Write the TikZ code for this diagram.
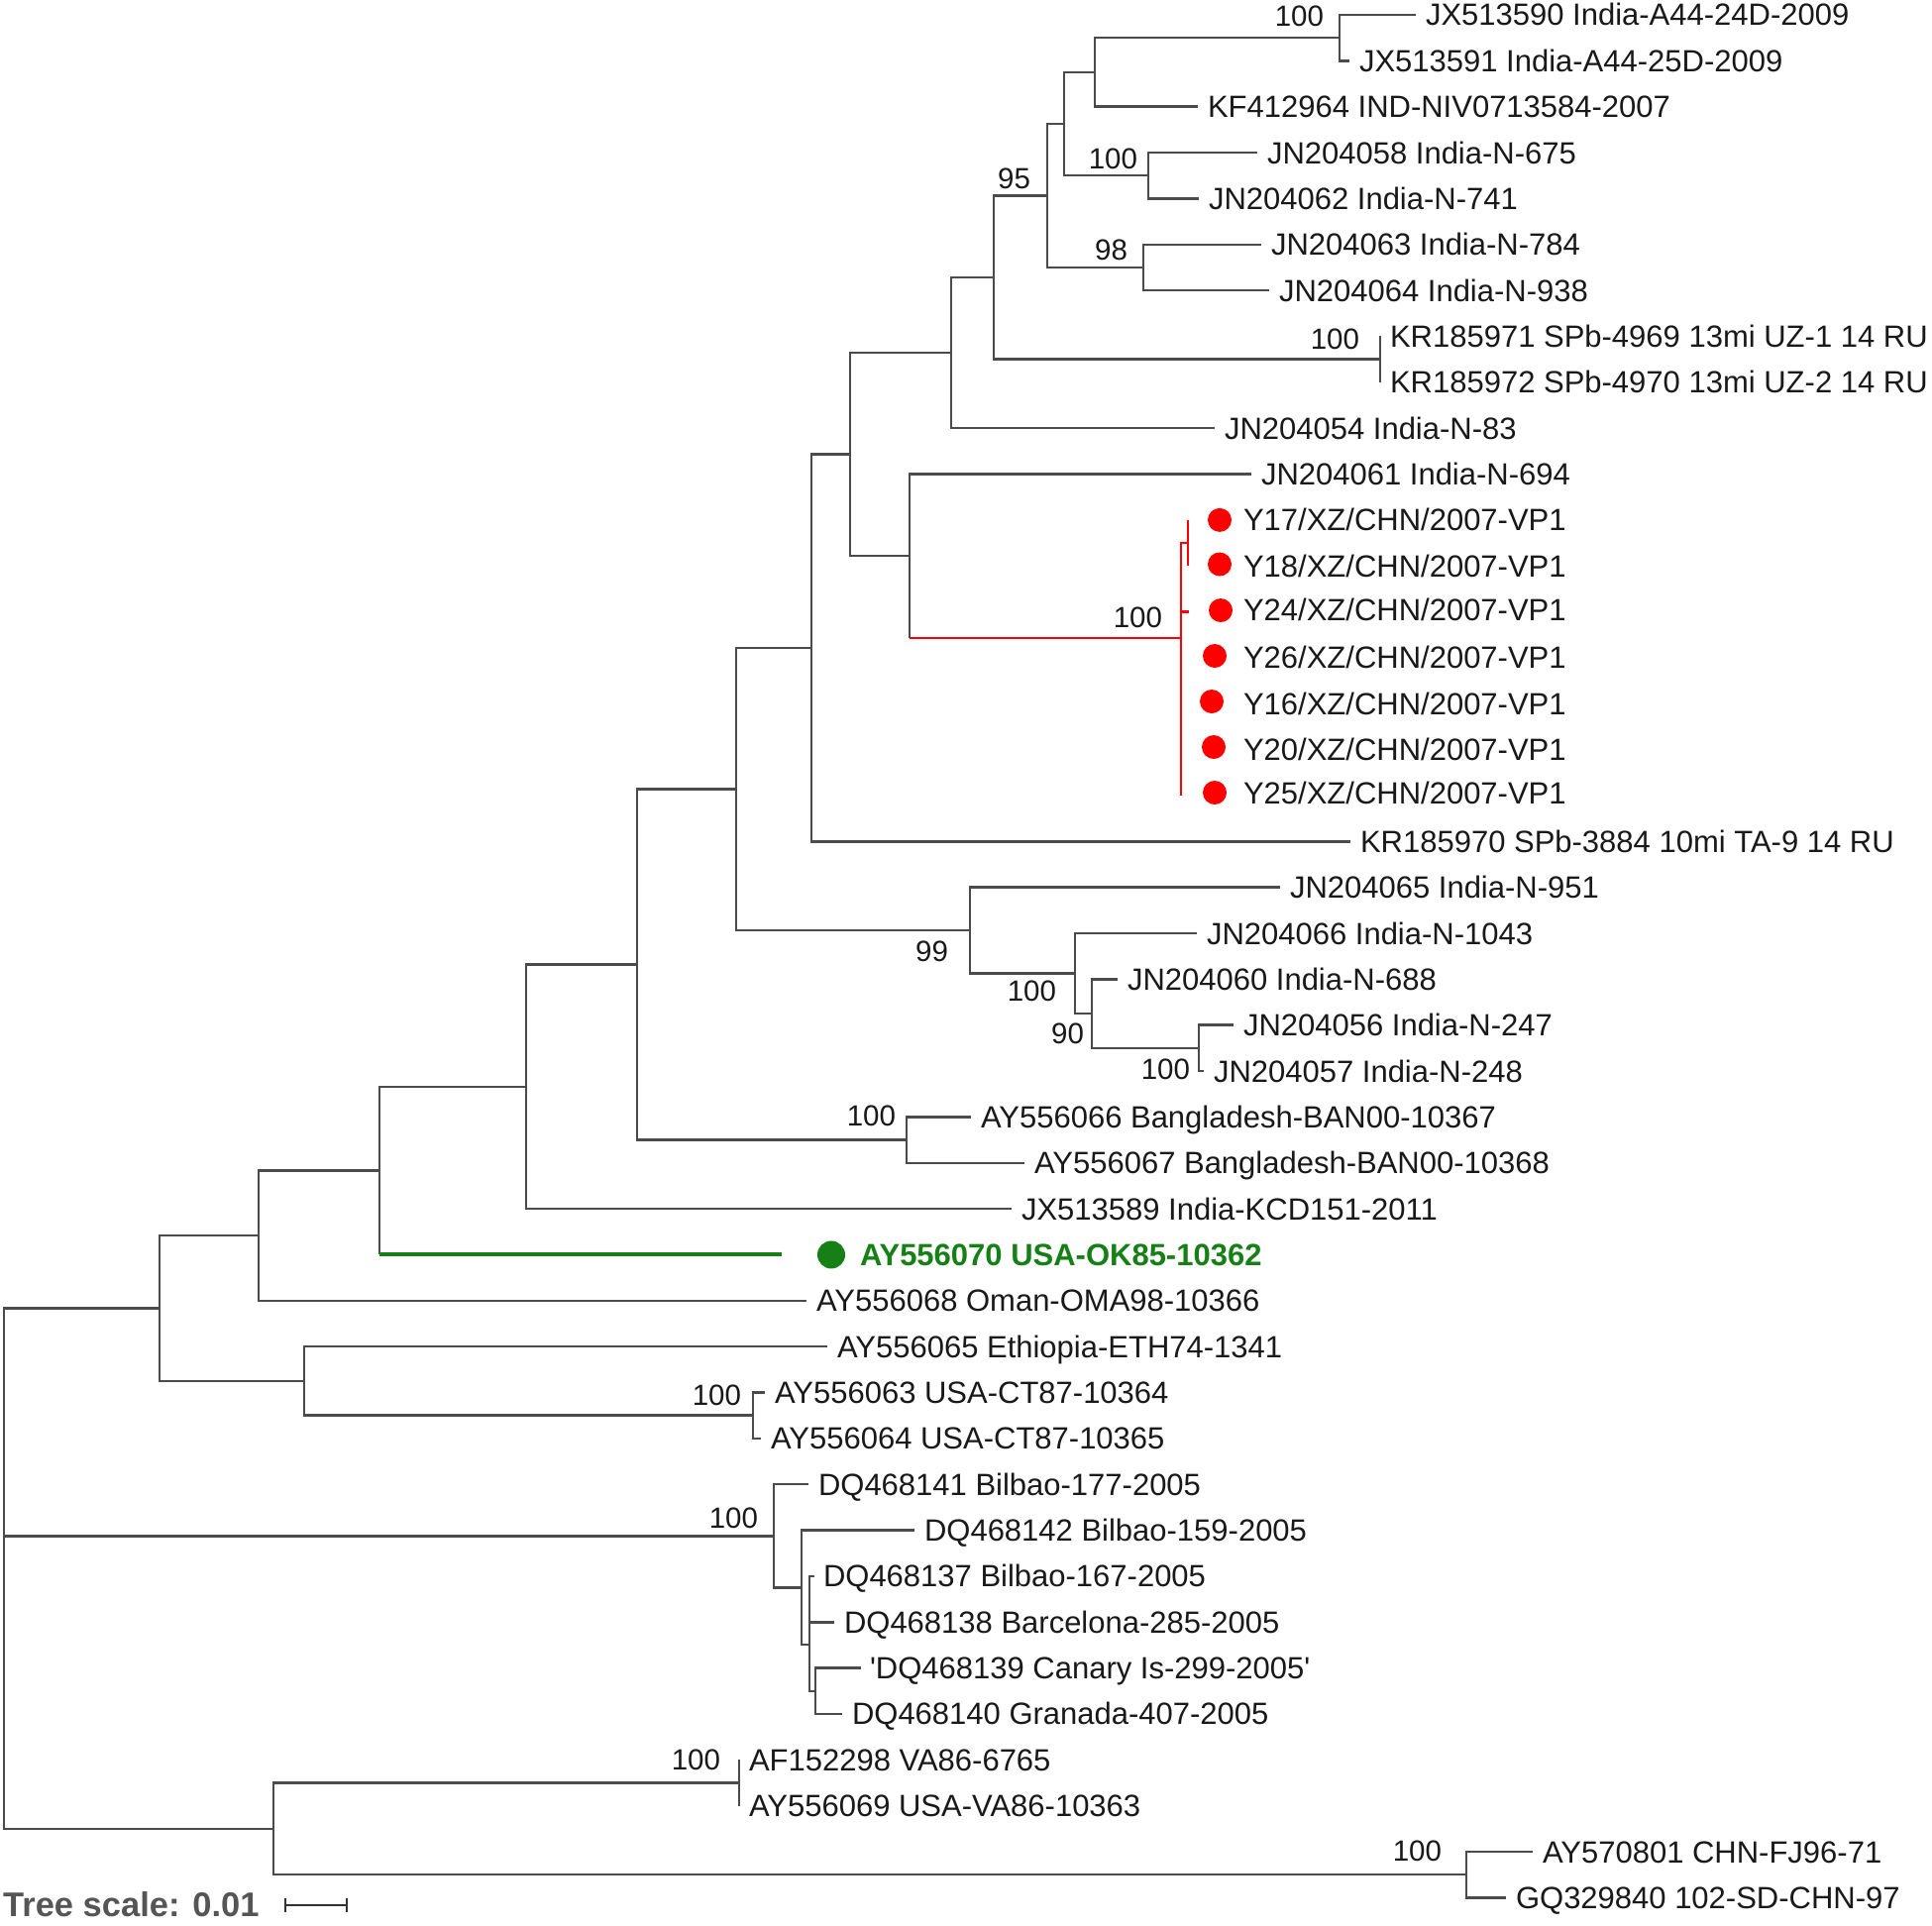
\documentclass[tikz,border=0pt]{standalone}
\usepackage{fontspec}
\setmainfont{Liberation Sans}
\definecolor{brc}{RGB}{75,75,75}
\definecolor{txc}{RGB}{25,25,25}
\definecolor{redc}{RGB}{255,0,0}
\definecolor{grnc}{RGB}{22,128,22}
\definecolor{tsc}{RGB}{85,85,85}
\newcommand\labfnt{\fontsize{31pt}{36pt}\selectfont}
\newcommand\supfnt{\fontsize{29.5pt}{34pt}\selectfont}
\newcommand\tsfnt{\fontsize{34.5pt}{40pt}\selectfont\bfseries}
\tikzset{
  br/.style={draw=brc, line width=2.5pt},
  redbr/.style={draw=redc, line width=2.2pt},
  grbr/.style={draw=grnc, line width=4pt},
  lab/.style={anchor=base west, inner sep=0pt, outer sep=0pt, font=\labfnt, text=txc, yshift=-11pt},
  glab/.style={lab, text=grnc, font=\labfnt\bfseries},
  sup/.style={anchor=east, inner sep=0pt, outer sep=0pt, font=\supfnt, text=txc},
  rdot/.style={circle, fill=redc, inner sep=0pt, minimum size=24pt},
  gdot/.style={circle, fill=grnc, inner sep=0pt, minimum size=28pt},
  sbar/.style={draw=black!80, line width=2.6pt},
}
\begin{document}
\begin{tikzpicture}[x=1pt,y=-1pt]
\useasboundingbox (0,0) rectangle (1950,1943);
% ---------- leaf tips ----------
\coordinate (t1) at (1429,15);
\coordinate (t2) at (1362,61.35);
\coordinate (t3) at (1209,107.7);
\coordinate (t4) at (1269,154.05);
\coordinate (t5) at (1210,200.4);
\coordinate (t6) at (1273,246.75);
\coordinate (t7) at (1281,293.1);
\coordinate (t8) at (1393,339.45);
\coordinate (t9) at (1393,385.8);
\coordinate (t10) at (1226,432.15);
\coordinate (t11) at (1263,478.5);
\coordinate (t12) at (1199,524.85);
\coordinate (t13) at (1199,571.2);
\coordinate (t14) at (1200,617.55);
\coordinate (t15) at (1192,663.9);
\coordinate (t16) at (1192,710.25);
\coordinate (t17) at (1192,756.6);
\coordinate (t18) at (1192,802.95);
\coordinate (t19) at (1363,849.3);
\coordinate (t20) at (1292,895.65);
\coordinate (t21) at (1208,942);
\coordinate (t22) at (1128,988.35);
\coordinate (t23) at (1245,1034.7);
\coordinate (t24) at (1215,1081.05);
\coordinate (t25) at (980,1127.4);
\coordinate (t26) at (1034,1173.75);
\coordinate (t27) at (1021,1220.1);
\coordinate (t28) at (789,1266.45);
\coordinate (t29) at (814,1312.8);
\coordinate (t30) at (835,1359.15);
\coordinate (t31) at (772,1405.5);
\coordinate (t32) at (768,1451.85);
\coordinate (t33) at (816,1498.2);
\coordinate (t34) at (923,1544.55);
\coordinate (t35) at (822,1590.9);
\coordinate (t36) at (842,1637.25);
\coordinate (t37) at (869,1683.6);
\coordinate (t38) at (850,1729.95);
\coordinate (t39) at (746,1776.3);
\coordinate (t40) at (746,1822.65);
\coordinate (t41) at (1547,1869);
\coordinate (t42) at (1520,1915.35);
% ---------- internal nodes ----------
\coordinate (n1) at (1352,38.2);
\coordinate (n2) at (1105,72.9);
\coordinate (n3) at (1159,177.2);
\coordinate (n4) at (1074,125.1);
\coordinate (n5) at (1154,269.9);
\coordinate (n6) at (1057,197.5);
\coordinate (n7) at (1393,362.6);
\coordinate (n8) at (1003,280.1);
\coordinate (n9) at (960,356.1);
\coordinate (r1) at (1199,548);
\coordinate (r0) at (1192,644);
\coordinate (n10) at (918,561.2);
\coordinate (n11) at (858,458.7);
\coordinate (n12) at (819,654);
\coordinate (na) at (1210,1057.9);
\coordinate (nb) at (1102,1023.1);
\coordinate (nc) at (1085,982.6);
\coordinate (nd) at (979,939.1);
\coordinate (n13) at (743,796.6);
\coordinate (bd) at (915,1150.6);
\coordinate (n14) at (643,973.6);
\coordinate (n15) at (531,1096.9);
\coordinate (n16) at (383,1181.7);
\coordinate (n17) at (261,1247.2);
\coordinate (ct) at (760,1428.7);
\coordinate (n18) at (307,1393.9);
\coordinate (n19) at (161,1320.6);
\coordinate (d3) at (823,1706.8);
\coordinate (d2) at (817,1660);
\coordinate (d1) at (809,1602.3);
\coordinate (d0) at (781,1550.3);
\coordinate (va) at (746,1799.5);
\coordinate (cn) at (1480,1892.2);
\coordinate (n20) at (276,1845.8);
\coordinate (root) at (4,1550);
% ---------- branches ----------
\draw[br] (n1) |- (t1) (n1) |- (t2);
\draw[br] (n2) |- (n1) (n2) |- (t3);
\draw[br] (n3) |- (t4) (n3) |- (t5);
\draw[br] (n4) |- (n2) (n4) |- (n3);
\draw[br] (n5) |- (t6) (n5) |- (t7);
\draw[br] (n6) |- (n4) (n6) |- (n5);
\draw[br] (n7) |- (t8) (n7) |- (t9);
\draw[br] (n8) |- (n6) (n8) |- (n7);
\draw[br] (n9) |- (n8) (n9) |- (t10);
\draw[br] (n10) |- (t11) (n10) -- (n10 |- r0);
\draw[redbr] (n10 |- r0) -- (r0);
\draw[redbr] (r0) |- (r1) (r0) |- (t14) (r0) |- (t15) (r0) |- (t16) (r0) |- (t17) (r0) |- (t18);
\draw[redbr] (r1) |- (t12) (r1) |- (t13);
\draw[br] (n11) |- (n9) (n11) |- (n10);
\draw[br] (n12) |- (n11) (n12) |- (t19);
\draw[br] (na) |- (t23) (na) |- (t24);
\draw[br] (nb) |- (t22) (nb) |- (na);
\draw[br] (nc) |- (t21) (nc) |- (nb);
\draw[br] (nd) |- (t20) (nd) |- (nc);
\draw[br] (n13) |- (n12) (n13) |- (nd);
\draw[br] (bd) |- (t25) (bd) |- (t26);
\draw[br] (n14) |- (n13) (n14) |- (bd);
\draw[br] (n15) |- (n14) (n15) |- (t27);
\draw[br] (n16) |- (n15) (n16) -- (n16 |- t28);
\draw[grbr] (n16 |- t28) -- (t28);
\draw[br] (n17) |- (n16) (n17) |- (t29);
\draw[br] (ct) |- (t31) (ct) |- (t32);
\draw[br] (n18) |- (t30) (n18) |- (ct);
\draw[br] (n19) |- (n17) (n19) |- (n18);
\draw[br] (d3) |- (t37) (d3) |- (t38);
\draw[br] (d2) |- (t35) (d2) |- (t36) (d2) |- (d3);
\draw[br] (d1) |- (t34) (d1) |- (d2);
\draw[br] (d0) |- (t33) (d0) |- (d1);
\draw[br] (va) |- (t39) (va) |- (t40);
\draw[br] (cn) |- (t41) (cn) |- (t42);
\draw[br] (n20) |- (va) (n20) |- (cn);
\draw[br] (root) |- (n19) (root) |- (d0) (root) |- (n20);
% ---------- leaf labels ----------
\node[lab] (l1) at (1439,15) {JX513590 India-A44-24D-2009};
\node[lab] (l2) at (1372,61.35) {JX513591 India-A44-25D-2009};
\node[lab] (l3) at (1219,107.7) {KF412964 IND-NIV0713584-2007};
\node[lab] (l4) at (1279,154.05) {JN204058 India-N-675};
\node[lab] (l5) at (1220,200.4) {JN204062 India-N-741};
\node[lab] (l6) at (1283,246.75) {JN204063 India-N-784};
\node[lab] (l7) at (1291,293.1) {JN204064 India-N-938};
\node[lab] (l8) at (1403,339.45) {KR185971 SPb-4969 13mi UZ-1 14 RU};
\node[lab] (l9) at (1403,385.8) {KR185972 SPb-4970 13mi UZ-2 14 RU};
\node[lab] (l10) at (1236,432.15) {JN204054 India-N-83};
\node[lab] (l11) at (1273,478.5) {JN204061 India-N-694};
\node[rdot] (p12) at (1231,524.85) {};
\node[rdot] (p13) at (1231,569.5) {};
\node[rdot] (p14) at (1232,616) {};
\node[rdot] (p15) at (1226,662) {};
\node[rdot] (p16) at (1223,708) {};
\node[rdot] (p17) at (1225,754) {};
\node[rdot] (p18) at (1226,800) {};
\node[lab] (l12) at (1255,524.85) {Y17/XZ/CHN/2007-VP1};
\node[lab] (l13) at (1255,571.2) {Y18/XZ/CHN/2007-VP1};
\node[lab] (l14) at (1255,615) {Y24/XZ/CHN/2007-VP1};
\node[lab] (l15) at (1255,663.9) {Y26/XZ/CHN/2007-VP1};
\node[lab] (l16) at (1255,710.25) {Y16/XZ/CHN/2007-VP1};
\node[lab] (l17) at (1255,756.6) {Y20/XZ/CHN/2007-VP1};
\node[lab] (l18) at (1255,800.5) {Y25/XZ/CHN/2007-VP1};
\node[lab] (l19) at (1373,849.3) {KR185970 SPb-3884 10mi TA-9 14 RU};
\node[lab] (l20) at (1302,895.65) {JN204065 India-N-951};
\node[lab] (l21) at (1218,942) {JN204066 India-N-1043};
\node[lab] (l22) at (1138,988.35) {JN204060 India-N-688};
\node[lab] (l23) at (1255,1034.7) {JN204056 India-N-247};
\node[lab] (l24) at (1225,1081.05) {JN204057 India-N-248};
\node[lab] (l25) at (990,1127.4) {AY556066 Bangladesh-BAN00-10367};
\node[lab] (l26) at (1044,1173.75) {AY556067 Bangladesh-BAN00-10368};
\node[lab] (l27) at (1031,1220.1) {JX513589 India-KCD151-2011};
\node[gdot] (p28) at (839,1266.45) {};
\node[glab] (l28) at (868,1266.45) {AY556070 USA-OK85-10362};
\node[lab] (l29) at (824,1312.8) {AY556068 Oman-OMA98-10366};
\node[lab] (l30) at (845,1359.15) {AY556065 Ethiopia-ETH74-1341};
\node[lab] (l31) at (782,1405.5) {AY556063 USA-CT87-10364};
\node[lab] (l32) at (778,1451.85) {AY556064 USA-CT87-10365};
\node[lab] (l33) at (826,1498.2) {DQ468141 Bilbao-177-2005};
\node[lab] (l34) at (933,1544.55) {DQ468142 Bilbao-159-2005};
\node[lab] (l35) at (831,1590.9) {DQ468137 Bilbao-167-2005};
\node[lab] (l36) at (852,1637.25) {DQ468138 Barcelona-285-2005};
\node[lab] (l37) at (878,1683.6) {\textquotesingle DQ468139 Canary Is-299-2005\textquotesingle};
\node[lab] (l38) at (860,1729.95) {DQ468140 Granada-407-2005};
\node[lab] (l39) at (756,1776.3) {AF152298 VA86-6765};
\node[lab] (l40) at (756,1822.65) {AY556069 USA-VA86-10363};
\node[lab] (l41) at (1557,1869) {AY570801 CHN-FJ96-71};
\node[lab] (l42) at (1530,1915.35) {GQ329840 102-SD-CHN-97};
% ---------- support values ----------
\node[sup] (s1) at (1336,16) {100};
\node[sup] (s2) at (1148,160) {100};
\node[sup] (s3) at (1138,252) {98};
\node[sup] (s4) at (1040,180) {95};
\node[sup] (s5) at (1372,342) {100};
\node[sup] (s6) at (1173,623) {100};
\node[sup] (s7) at (957,960) {99};
\node[sup] (s8) at (1066,1000) {100};
\node[sup] (s9) at (1094,1043) {90};
\node[sup] (s10) at (1201,1079) {100};
\node[sup] (s11) at (904,1126) {100};
\node[sup] (s12) at (748,1408) {100};
\node[sup] (s13) at (765,1532) {100};
\node[sup] (s14) at (727,1776) {100};
\node[sup] (s15) at (1455,1868) {100};
% ---------- tree scale ----------
\node[anchor=base west, inner sep=0pt, font=\tsfnt, text=tsc] (ts) at (3,1934) {Tree scale: 0.01};
\coordinate (sb1) at (288,1923);
\coordinate (sb2) at (350,1923);
\draw[sbar] (sb1) -- (sb2);
\draw[sbar] ([yshift=7pt]sb1) -- ([yshift=-7pt]sb1);
\draw[sbar] ([yshift=7pt]sb2) -- ([yshift=-7pt]sb2);
\end{tikzpicture}
\end{document}
